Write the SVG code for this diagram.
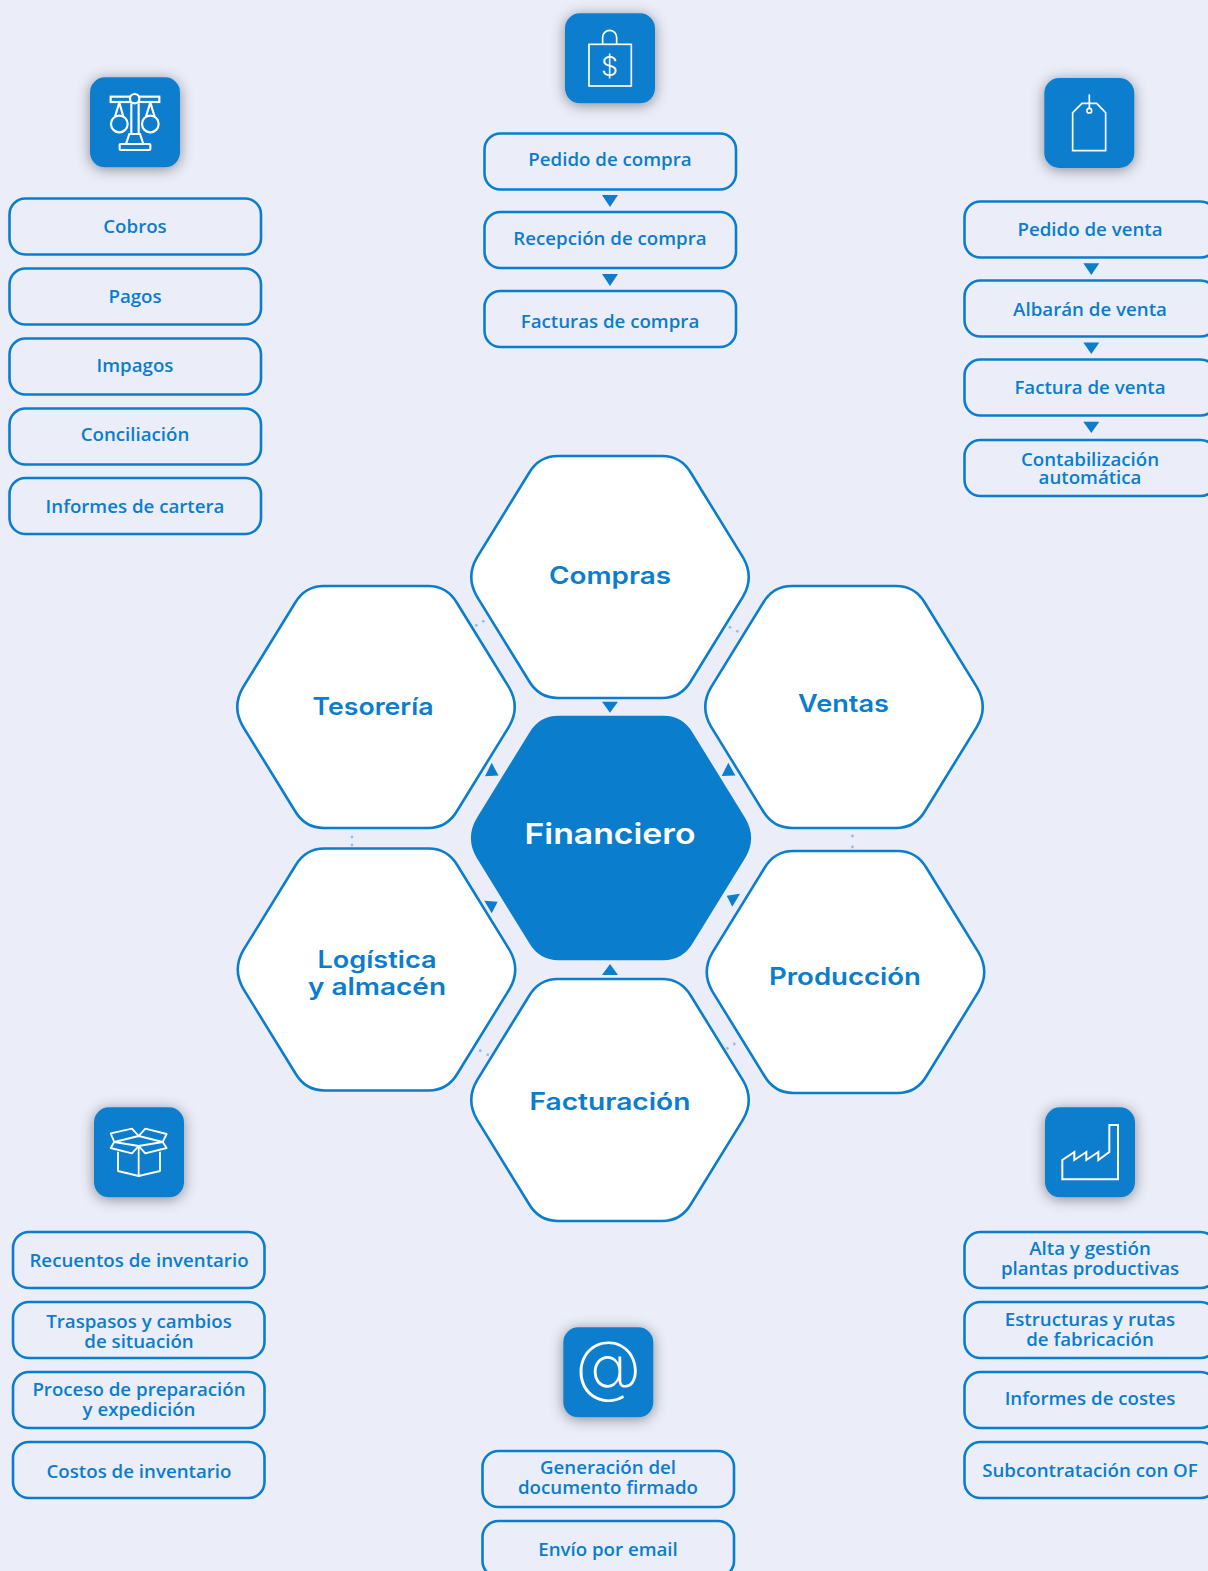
<svg xmlns="http://www.w3.org/2000/svg" width="1208" height="1571" viewBox="0 0 1208 1571">
<style>
.box{fill:none;stroke:#0b7dcd;stroke-width:2.6}
.t{font-family:"Open Sans","Liberation Sans",sans-serif;font-weight:600;font-size:18.7px;fill:#0b7dcd;text-anchor:middle}
.h{font-family:Inter,"Liberation Sans",sans-serif;font-weight:600;font-size:24px;fill:#0b7dcd;text-anchor:middle}
.hex{fill:#fff;stroke:#0b7dcd;stroke-width:2.6}
.tile{fill:#0b7dcd;filter:url(#sh)}
.ic{fill:none;stroke:#fff;stroke-width:6.5}
.ar{fill:#0b7dcd}
.d{fill:#8dbde8}
</style>
<defs>
<filter id="sh" x="-40%" y="-40%" width="180%" height="180%"><feDropShadow dx="0" dy="2" stdDeviation="7" flood-color="#000" flood-opacity="0.42"/></filter>
<path id="hx" d="M-52-121H52Q71-121 81-104L133-19.6Q144.5 0 133 19.6L81 104Q71 121 52 121H-52Q-71 121-81 104L-133 19.6Q-144.5 0-133-19.6L-81-104Q-71-121-52-121Z"/>
</defs>
<rect width="1208" height="1571" fill="#ebeef9"/>

<g id="connectors">
<polygon class="ar" points="602,701.7 618,701.7 610,712.7"/>
<polygon class="ar" points="491.7,762.7 485,776.3 498.5,775.5"/>
<polygon class="ar" points="728.3,762.7 721.7,776 735.3,775.5"/>
<polygon class="ar" points="484.3,900.7 497.7,901.7 491.7,913.3"/>
<polygon class="ar" points="726.7,895.7 740,893.7 732.3,906.7"/>
<polygon class="ar" points="610,964 602,975 618,975"/>
<polygon class="ar" points="602,195 618,195 610,207"/>
<polygon class="ar" points="602,274 618,274 610,286"/>
<polygon class="ar" points="1083.3,263.3 1099.3,263.3 1091.3,275"/>
<polygon class="ar" points="1083.3,342.6 1099.3,342.6 1091.3,354"/>
<polygon class="ar" points="1083.3,421.7 1099.3,421.7 1091.3,433"/>
<circle class="d" cx="476.3" cy="625.3" r="1.4"/><circle class="d" cx="483.3" cy="621.3" r="1.4"/>
<circle class="d" cx="730" cy="627.3" r="1.4"/><circle class="d" cx="737.3" cy="631.3" r="1.4"/>
<circle class="d" cx="480.3" cy="1050.7" r="1.4"/><circle class="d" cx="487.7" cy="1054.7" r="1.4"/>
<circle class="d" cx="727.3" cy="1048.3" r="1.4"/><circle class="d" cx="734.3" cy="1044" r="1.4"/>
<circle class="d" cx="352" cy="837" r="1.4"/><circle class="d" cx="352" cy="845" r="1.4"/>
<circle class="d" cx="852.5" cy="836" r="1.4"/><circle class="d" cx="852.5" cy="847" r="1.4"/>
</g>

<g id="hex-compras"><use href="#hx" class="hex" transform="translate(610 577)"/><text class="h" x="610" y="584" textLength="122" lengthAdjust="spacingAndGlyphs">Compras</text></g>
<g id="hex-ventas"><use href="#hx" class="hex" transform="translate(844 707)"/><text class="h" x="843.5" y="712" textLength="91" lengthAdjust="spacingAndGlyphs">Ventas</text></g>
<g id="hex-tesoreria"><use href="#hx" class="hex" transform="translate(376 707)"/><text class="h" x="373" y="715" textLength="121" lengthAdjust="spacingAndGlyphs">Tesorería</text></g>
<g id="hex-logistica"><use href="#hx" class="hex" transform="translate(376.5 969.5)"/><text class="h" x="377" y="968" textLength="119" lengthAdjust="spacingAndGlyphs">Logística</text><text class="h" x="377" y="995" textLength="138" lengthAdjust="spacingAndGlyphs">y almacén</text></g>
<g id="hex-produccion"><use href="#hx" class="hex" transform="translate(845.5 972)"/><text class="h" x="845" y="985" textLength="152" lengthAdjust="spacingAndGlyphs">Producción</text></g>
<g id="hex-facturacion"><use href="#hx" class="hex" transform="translate(610 1100)"/><text class="h" x="610" y="1110" textLength="161" lengthAdjust="spacingAndGlyphs">Facturación</text></g>
<g id="hex-financiero"><use href="#hx" fill="#0b7dcd" transform="translate(611 838) scale(1.01)"/><text class="h" style="fill:#fff;font-size:29px" x="610" y="844" textLength="171" lengthAdjust="spacingAndGlyphs">Financiero</text></g>

<g id="icon-tesoreria"><rect class="tile" x="90" y="77.3" width="90" height="90" rx="15"/>
<g class="ic" transform="translate(0 60) scale(.3333)"><rect x="332" y="110" width="146" height="16"/><circle cx="404" cy="116" r="14" fill="#0b7dcd"/><path d="M394 130V222M416 130V222"/><circle cx="358" cy="192" r="25"/><circle cx="451" cy="192" r="25"/><path d="M358 128L345 170M358 128L370 170M451 128L438 170M451 128L464 170"/><path d="M378 252L388 222H420L430 252"/><rect x="359" y="252" width="92" height="18" rx="3"/></g></g>
<g id="icon-compras"><rect class="tile" x="565" y="13.3" width="90" height="90" rx="15"/>
<g class="ic" transform="translate(470 0) scale(.3333)" style="stroke-width:5"><rect x="357" y="133" width="127" height="125"/><path d="M398 133V112a21 21 0 0 1 42 0V133"/></g>
<text x="609.5" y="76" text-anchor="middle" style="font-family:Inter,'Open Sans',sans-serif;font-weight:300;font-size:27px;fill:#fff">$</text></g>
<g id="icon-ventas"><rect class="tile" x="1044.3" y="78" width="90" height="90" rx="15"/>
<g class="ic" transform="translate(950 70) scale(.3333)" style="stroke-width:5"><path d="M368 128L396 100H440L467 128V242H368Z"/><path d="M418 73V115"/><circle cx="418" cy="122" r="7"/></g></g>
<g id="icon-logistica"><rect class="tile" x="94" y="1107.3" width="90" height="90" rx="15"/>
<g class="ic" transform="translate(70 1090) scale(.3333)" style="stroke-width:5.5;stroke-linejoin:round"><path d="M144 185V243L206 258L270 243V185M206 168V258"/><path d="M133 156L206 138L278 156L206 168Z"/><path d="M133 156L122 130L186 116L206 138M278 156L290 132L226 116L206 138M133 156L122 174L186 190L206 168M278 156L290 174L226 190L206 168"/></g></g>
<g id="icon-produccion"><rect class="tile" x="1045" y="1107.3" width="90" height="90" rx="15"/>
<g class="ic" transform="translate(1020 1090) scale(.3333)" style="stroke-width:6"><path d="M127 268H294V105H268V186L235 210V186L199 210V186L163 210V186L127 210Z"/></g></g>
<g id="icon-facturacion"><rect class="tile" x="563.3" y="1327.3" width="90" height="90" rx="15"/>
<text x="608.3" y="1389" text-anchor="middle" style="font-family:Inter,'Open Sans',sans-serif;font-weight:200;font-size:68px;fill:#fff">@</text></g>

<g id="n-cobros"><rect class="box" x="9.5" y="198.5" width="251.5" height="56" rx="16"/><text class="t" x="135" y="232.5">Cobros</text></g>
<g id="n-pagos"><rect class="box" x="9.5" y="268.5" width="251.5" height="56" rx="16"/><text class="t" x="135" y="302.5">Pagos</text></g>
<g id="n-impagos"><rect class="box" x="9.5" y="338.5" width="251.5" height="56" rx="16"/><text class="t" x="135" y="371.5">Impagos</text></g>
<g id="n-conciliacion"><rect class="box" x="9.5" y="408.5" width="251.5" height="56" rx="16"/><text class="t" x="135" y="441">Conciliación</text></g>
<g id="n-informes-cartera"><rect class="box" x="9.5" y="478" width="251.5" height="56" rx="16"/><text class="t" x="135" y="513">Informes de cartera</text></g>

<g id="n-pedido-compra"><rect class="box" x="484.5" y="133.5" width="251.5" height="56" rx="16"/><text class="t" x="610" y="165.5">Pedido de compra</text></g>
<g id="n-recepcion"><rect class="box" x="484.5" y="212" width="251.5" height="56" rx="16"/><text class="t" x="610" y="244.5">Recepción de compra</text></g>
<g id="n-facturas"><rect class="box" x="484.5" y="291" width="251.5" height="56" rx="16"/><text class="t" x="610" y="327.5">Facturas de compra</text></g>

<g id="n-pedido-venta"><rect class="box" x="964.5" y="201.5" width="252" height="56" rx="16"/><text class="t" x="1090" y="235.5">Pedido de venta</text></g>
<g id="n-albaran"><rect class="box" x="964.5" y="280.5" width="252" height="56" rx="16"/><text class="t" x="1090" y="315.5">Albarán de venta</text></g>
<g id="n-factura-venta"><rect class="box" x="964.5" y="359.5" width="252" height="56" rx="16"/><text class="t" x="1090" y="393.5">Factura de venta</text></g>
<g id="n-contabilizacion"><rect class="box" x="964.5" y="440" width="252" height="56" rx="16"/><text class="t" x="1090" y="465.5">Contabilización</text><text class="t" x="1090" y="483.5">automática</text></g>

<g id="n-recuentos"><rect class="box" x="13" y="1232" width="251.5" height="56" rx="16"/><text class="t" x="139" y="1266.5">Recuentos de inventario</text></g>
<g id="n-traspasos"><rect class="box" x="13" y="1302" width="251.5" height="56" rx="16"/><text class="t" x="139" y="1327.5">Traspasos y cambios</text><text class="t" x="139" y="1348">de situación</text></g>
<g id="n-proceso"><rect class="box" x="13" y="1372" width="251.5" height="56" rx="16"/><text class="t" x="139" y="1395.5">Proceso de preparación</text><text class="t" x="139" y="1416">y expedición</text></g>
<g id="n-costos"><rect class="box" x="13" y="1442" width="251.5" height="56" rx="16"/><text class="t" x="139" y="1478">Costos de inventario</text></g>

<g id="n-generacion"><rect class="box" x="482.5" y="1451" width="251.5" height="56" rx="16"/><text class="t" x="608" y="1473.5">Generación del</text><text class="t" x="608" y="1494">documento firmado</text></g>
<g id="n-envio"><rect class="box" x="482.5" y="1521" width="251.5" height="56" rx="16"/><text class="t" x="608" y="1555.5">Envío por email</text></g>

<g id="n-alta"><rect class="box" x="964.5" y="1232" width="252" height="56" rx="16"/><text class="t" x="1090" y="1254.5">Alta y gestión</text><text class="t" x="1090" y="1275">plantas productivas</text></g>
<g id="n-estructuras"><rect class="box" x="964.5" y="1302" width="252" height="56" rx="16"/><text class="t" x="1090" y="1325.5">Estructuras y rutas</text><text class="t" x="1090" y="1346">de fabricación</text></g>
<g id="n-informes-costes"><rect class="box" x="964.5" y="1372" width="252" height="56" rx="16"/><text class="t" x="1090" y="1404.5">Informes de costes</text></g>
<g id="n-subcontratacion"><rect class="box" x="964.5" y="1442" width="252" height="56" rx="16"/><text class="t" x="1090" y="1476.5">Subcontratación con OF</text></g>
</svg>
